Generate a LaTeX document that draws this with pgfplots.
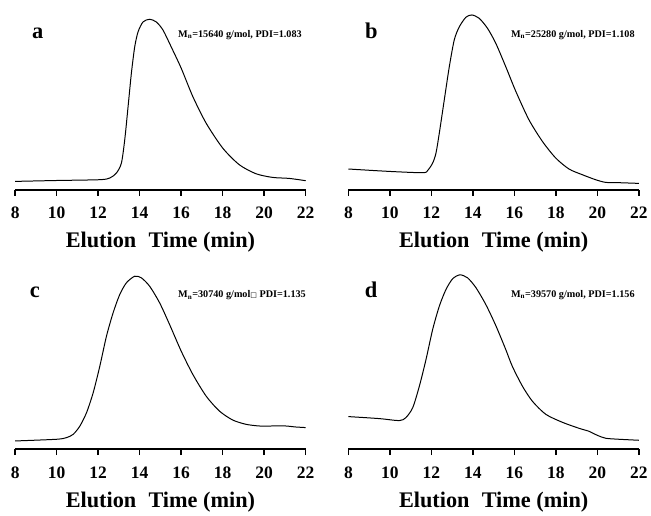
\documentclass[border=0pt]{standalone}
\usepackage{fontspec}
\setmainfont{Liberation Serif}
\newfontfamily\symfont{DejaVu Sans}
\usepackage{pgfplots}
\pgfplotsset{compat=1.18}
\pgfplotsset{
 gpc/.style={
  scale only axis, width=291pt, height=180pt,
  xmin=8, xmax=22, ymin=-1, ymax=179,
  axis x line*=bottom, hide y axis,
  xtick={8,10,...,22}, minor tick num=0,
  tick align=outside, major tick length=6pt,
  tick style={black, line width=1.6pt},
  x axis line style={line width=2pt},
  xticklabel style={font=\fontsize{17.5}{18}\selectfont\bfseries, yshift=-8pt},
  /pgf/number format/assume math mode=true,
  xlabel={Elution\hspace{0.55em}Time (min)},
  xlabel style={font=\fontsize{22.3}{23}\selectfont\bfseries, at={(axis description cs:0.5,0)}, anchor=base, yshift=-58pt},
  clip=false,
 },
 curve/.style={black, line width=1pt, smooth, tension=0.45},
}
\begin{document}
\begin{tikzpicture}
\path (0,0) rectangle (651pt,516pt);
% panel a
\begin{axis}[gpc, at={(15.2pt,326pt)}, anchor=south west]
\addplot[curve] coordinates {
(8.0,7.3) (10.0,8.2) (12.08,9) (12.56,10.7) (12.88,15.7) (13.12,25.7) (13.28,49) (13.44,82)
(13.6,115.7) (13.76,142) (13.92,157) (14.16,167) (14.48,169.7) (14.8,167) (15.12,159)
(15.52,142) (16.0,120.7) (16.56,92.3) (17.2,65.7) (18.0,40.7) (18.8,24) (19.6,15)
(20.4,11.3) (21.2,10.3) (22,8)};
\end{axis}
% panel b
\begin{axis}[gpc, at={(349pt,326pt)}, anchor=south west]
\addplot[curve] coordinates {
(8.0,19.7) (9.97,17.3) (11.58,16) (11.82,18.3) (12.06,25.7) (12.22,35.7) (12.38,55.7)
(12.62,89) (12.86,122) (13.1,149) (13.34,162) (13.66,171.7) (13.95,174) (14.3,170.7)
(14.7,160.7) (15.1,145.7) (15.58,122.3) (16.07,97.3) (16.7,69) (17.35,47.3) (17.99,30.7)
(18.63,19.7) (19.27,14) (19.91,9) (20.4,6.3) (21.04,6) (22,5.3)};
\end{axis}
% panel c
\begin{axis}[gpc, at={(15.2pt,66pt)}, anchor=south west]
\addplot[curve] coordinates {
(8.0,7.3) (10.0,9) (10.48,10.7) (10.8,14) (11.12,22.3) (11.44,35.7) (11.76,55.7)
(12.08,82.3) (12.4,112.3) (12.72,135.7) (13.04,154) (13.36,165.7) (13.76,172.3)
(14.08,170.7) (14.48,162.3) (14.96,145.7) (15.44,124) (16.0,97.3) (16.56,74) (17.2,52.3)
(17.84,37.3) (18.48,28.3) (19.12,24) (19.76,22.3) (20.4,22.3) (21.04,22.3) (21.52,21.3) (22,20.7)};
\end{axis}
% panel d
\begin{axis}[gpc, at={(349pt,66pt)}, anchor=south west]
\addplot[curve] coordinates {
(8.0,31.7) (9.49,29.7) (10.45,27.7) (10.77,30.7) (11.1,40.7) (11.42,62.3) (11.74,89)
(12.06,119) (12.38,142.3) (12.7,159) (13.02,169.7) (13.37,173.7) (13.74,170.7) (14.14,161)
(14.62,144) (15.1,123) (15.58,99) (15.9,82) (16.39,62) (16.87,47) (17.51,34)
(18.31,26) (19.11,20) (19.59,17) (19.99,13) (20.4,10) (21.04,9) (22,8)};
\end{axis}
% panel letters
\tikzset{lbl/.style={anchor=base, inner sep=0pt, font=\fontsize{22.5}{23}\selectfont\bfseries},
 ann/.style={anchor=base west, inner sep=0pt, font=\fontsize{10.2}{11}\selectfont\bfseries}}
\node[lbl] at (37.7pt,477.5pt) {a};
\node[lbl] at (372pt,477pt) {b};
\node[lbl] at (35pt,217.7pt) {c};
\node[lbl] at (371.7pt,217.7pt) {d};
\node[ann] at (178.3pt,478.5pt) {M\textsubscript{n}=15640 g/mol, PDI=1.083};
\node[ann] at (511.7pt,478.5pt) {M\textsubscript{n}=25280 g/mol, PDI=1.108};
\node[ann] at (178.3pt,217.7pt) {M\textsubscript{n}=30740 g/mol{\symfont\mdseries\fontsize{7}{7}\selectfont □} PDI=1.135};
\node[ann] at (511.7pt,218.3pt) {M\textsubscript{n}=39570 g/mol, PDI=1.156};
\end{tikzpicture}
\end{document}
